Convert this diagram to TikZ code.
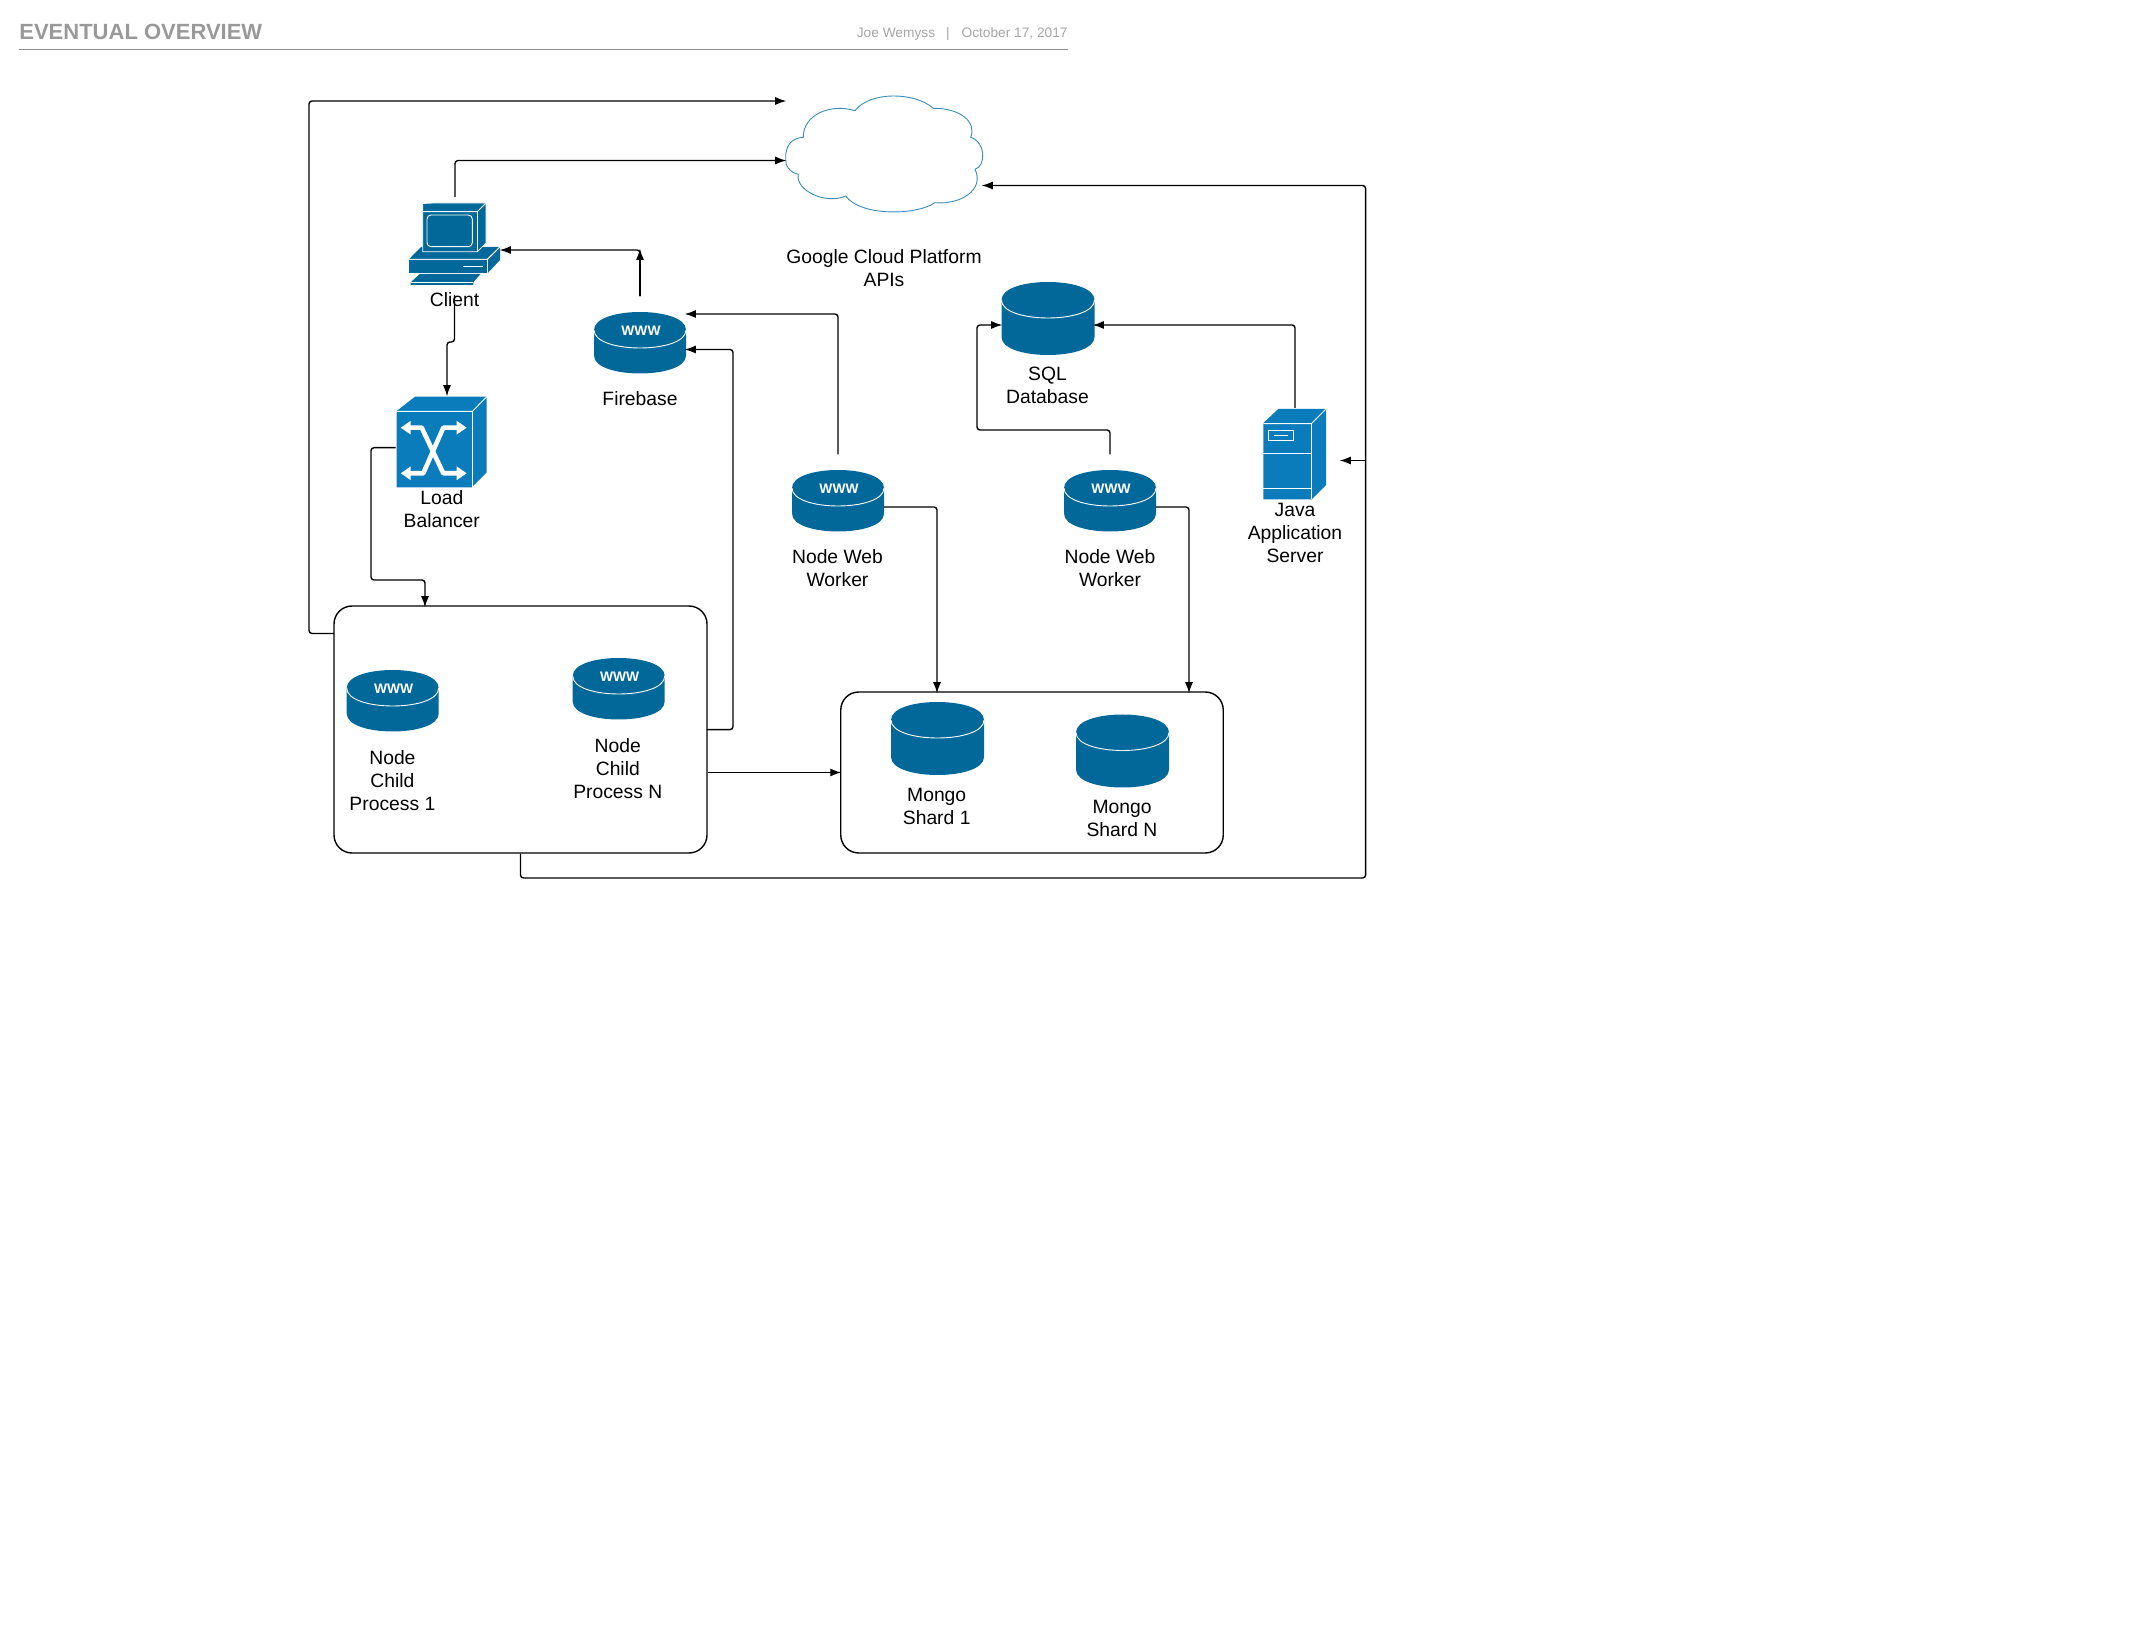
\documentclass[tikz,border=0pt]{standalone}
\usepackage{fontspec}
\setmainfont{Liberation Sans}
\usetikzlibrary{arrows.meta}
\definecolor{teal}{HTML}{02689A}
\definecolor{azure}{HTML}{0A7BBB}
\definecolor{cloudline}{HTML}{3A8DB8}
\tikzstyle{lbl}=[align=center, inner sep=0pt, font=\fontsize{9.65}{11.5}\selectfont]
\tikzstyle{grp}=[draw, rounded corners=9pt, line width=0.7pt, inner sep=0pt]
\tikzstyle{ar}=[-{Latex[length=5.6pt,width=4pt]}, line width=0.7pt, rounded corners=1.5pt, shorten >=-0.7pt]
\tikzstyle{hair}=[white, line width=0.45pt]
\tikzset{
  wwwdisk/.pic={
    \fill[teal] (-46,-12.5) .. controls (-46,-36.5) and (46,-36.5) .. (46,-12.5) -- (46,13)
      .. controls (46,37) and (-46,37) .. (-46,13) -- cycle;
    \draw[hair] (-46,-12.5) .. controls (-46,11.5) and (46,11.5) .. (46,-12.5);
    \node[text=white, inner sep=0pt, font=\fontsize{6.9}{8}\selectfont\bfseries] (-www) at (1,-11.5) {WWW};
    \coordinate (-east) at (46,6.5);
    \coordinate (-up) at (0,-46);
    \coordinate (-ina) at (46,-28.5);
    \coordinate (-inb) at (46,7);
  },
  dbcan/.pic={
    \fill[teal] (-46.5,-18.5) .. controls (-46.5,-42.5) and (46.5,-42.5) .. (46.5,-18.5) -- (46.5,18.5)
      .. controls (46.5,42.5) and (-46.5,42.5) .. (-46.5,18.5) -- cycle;
    \draw[hair] (-46.5,-18.5) .. controls (-46.5,5.5) and (46.5,5.5) .. (46.5,-18.5);
    \coordinate (-west) at (-47,6.5);
    \coordinate (-east) at (46,6.5);
  }
}

\begin{document}
\begin{tikzpicture}[x=0.5pt, y=-0.5pt]
    \useasboundingbox (0,0) rectangle (2136,1641);
    % header
    \node[anchor=base west, inner sep=0pt, text=black!40, font=\fontsize{11}{13}\selectfont\bfseries] (title) at (19,40) {EVENTUAL OVERVIEW};
    \node[anchor=base east, inner sep=0pt, text=black!35, font=\fontsize{6.86}{8}\selectfont] (date) at (1068,38) {October 17, 2017};
    \node[anchor=base, inner sep=0pt, text=black!35, font=\fontsize{6.86}{8}\selectfont] (bar) at (948,38) {|};
    \node[anchor=base east, inner sep=0pt, text=black!35, font=\fontsize{6.86}{8}\selectfont] (author) at (935.5,38) {Joe Wemyss};
    \coordinate (ruleL) at (19,49.5);
    \coordinate (ruleR) at (1068,49.5);
    \draw[black!45, line width=0.5pt] (ruleL)--(ruleR);
    % cloud
    \draw[cloudline, line width=0.45pt] (785.7,159.3) .. controls (785,145) and (792,138) .. (803.3,137.3)
      .. controls (803,115) and (830,103) .. (855,110.7)
      .. controls (870,91) and (915,92) .. (933.3,108.3)
      .. controls (960,108) and (977,122) .. (970.7,137.3)
      .. controls (986,142) and (986,166) .. (975,169.3)
      .. controls (985,190) and (960,205) .. (935,202.7)
      .. controls (915,216) and (860,216) .. (845.7,196)
      .. controls (825,205) and (795,190) .. (798.3,174.3)
      .. controls (790,173) and (785,165) .. (785.7,159.3) -- cycle;
    \node[lbl] (gcp) at (884,267.7) {Google Cloud Platform\\APIs};
    % client
    \fill[teal] (409,259.3)--(421,247)--(500,247)--(487.3,259.3)--cycle;
    \fill[teal] (487.8,259.8)--(500,247.5)--(500,260)--(487.8,273)--cycle;
    \fill[teal] (409,260)rectangle(487.3,273);
    \fill[teal, draw=white, line width=0.4pt] (422.7,203.5)--(433.3,203)--(486,203)--(486,243.3)--(477.3,251.7)--(422.7,251.7)--cycle;
    \draw[hair] (422.7,211.7)--(477.3,211.7)--(486,203);
    \draw[hair] (477.3,211.7)--(477.3,251.7);
    \draw[hair, rounded corners=2pt] (427,215) rectangle (472.3,246.7);
    \draw[hair] (409,259.3)--(487.3,259.3)--(500,246.7);
    \draw[hair] (487.3,259.3)--(487.3,273);
    \draw[hair, line width=0.6pt] (463.3,266.7)--(483.3,266.7);
    \fill[teal] (410.7,282.3)--(420,273.8)--(480.7,273.8)--(473.3,282.3)--(473.3,285)--(410.7,285)--cycle;
    \draw[hair] (410.7,282.6)--(473.3,282.6);
    \node[lbl] (client) at (454.5,300) {Client};
    % load balancer
    \fill[azure] (396.7,411)--(415,396.7)--(486.7,396.7)--(486.7,472.3)--(472.7,486.5)--(471.7,487.3)--(396.7,487.3)--cycle;
    \draw[hair] (396.7,411.4)--(472.4,411.4)--(486.7,396.7);
    \draw[hair] (472.4,411.4)--(472.4,487.3);
    \draw[white, line width=2.3pt, {Triangle[length=5pt,width=6.5pt]}-{Triangle[length=5pt,width=6.5pt]}, line join=round] (400.7,427.7)--(421.7,427.7)--(443.3,473.3)--(466.7,473.3);
    \draw[white, line width=2.3pt, {Triangle[length=5pt,width=6.5pt]}-{Triangle[length=5pt,width=6.5pt]}, line join=round] (400.7,473.3)--(423.3,473.3)--(443.3,427.7)--(466.7,427.7);
    \node[lbl] (lb) at (441.8,509.3) {Load\\Balancer};
    % java server
    \fill[azure] (1263.3,423)--(1278.3,409)--(1326,409)--(1326,485)--(1311.7,499.3)--(1263.3,499.3)--cycle;
    \draw[hair] (1263.3,423.6)--(1311.4,423.6)--(1326,409);
    \draw[hair] (1311.4,423.6)--(1311.4,499.3);
    \draw[hair] (1263.3,453.3)--(1311.4,453.3);
    \draw[hair] (1263.3,488.7)--(1311.4,488.7);
    \draw[hair, line width=0.6pt] (1268.7,430.3) rectangle (1293.3,440.3);
    \draw[hair] (1274.3,435.3)--(1288.3,435.3);
    \node[lbl] (java) at (1295,532.6) {Java\\Application\\Server};
    % disks
    \pic (firebase) at (640,342.5) {wwwdisk};
    \node[lbl] (fblbl) at (640,398.5) {Firebase};
    \pic (workera) at (838,500.5) {wwwdisk};
    \node[lbl] (walbl) at (837.5,567.8) {Node Web\\Worker};
    \pic (workerb) at (1110,500.5) {wwwdisk};
    \node[lbl] (wblbl) at (1110,567.8) {Node Web\\Worker};
    % databases
    \pic (sql) at (1048,318.5) {dbcan};
    \node[lbl] (sqllbl) at (1047.5,385.8) {SQL\\Database};
    % process group
    \node[grp, minimum width=186.5pt, minimum height=123.5pt] (procs) at (520.5,729.5) {};
    \pic (childa) at (392.7,700.5) {wwwdisk};
    \node[lbl] (calbl) at (392.4,781) {Node\\Child\\Process 1};
    \pic (childn) at (618.7,688.5) {wwwdisk};
    \node[lbl] (cnlbl) at (617.8,768.8) {Node\\Child\\Process N};
    % shard group
    \node[grp, minimum width=191.25pt, minimum height=80.5pt] (shards) at (1032,772.5) {};
    \pic (shardone) at (937.5,738.5) {dbcan};
    \node[lbl] (salbl) at (936.7,806) {Mongo\\Shard 1};
    \pic (shardn) at (1122.5,751) {dbcan};
    \node[lbl] (snlbl) at (1122,818) {Mongo\\Shard N};
    % free ends
    \coordinate (cloudTop) at (785,101);
    \coordinate (cloudW) at (785,160.5);
    \coordinate (cloudE) at (983,185.5);
    \coordinate (loopOut) at (334,633.5);
    \coordinate (loopTop) at (309,101);
    \coordinate (clientUp) at (455,197);
    \coordinate (clientDn) at (454.5,295);
    \coordinate (clientIn) at (501,250);
    \coordinate (fbTip) at (640,250);
    \coordinate (jogA) at (454.5,342);
    \coordinate (jogB) at (447,342);
    \coordinate (lbIn) at (447,395);
    \coordinate (lbOut) at (395.7,447.7);
    \coordinate (lbLeg) at (371,580);
    \coordinate (procsIn) at (425,606);
    \coordinate (procsOut) at (707,729.6);
    \coordinate (fbLeg) at (733,349.5);
    \coordinate (sqlLeg) at (977,430);
    \coordinate (javaUp) at (1295,408);
    \coordinate (shardInA) at (937,692);
    \coordinate (shardInB) at (1189,692);
    \coordinate (trunkB) at (1365.6,878);
    \coordinate (trunkJ) at (1365.6,460.5);
    \coordinate (javaIn) at (1341,460.5);
    % connectors
    \draw[ar] (loopOut) -| (loopTop) -- (cloudTop);
    \draw[ar] (clientUp) |- (cloudW);
    \draw[ar] (clientDn) -- (jogA) -- (jogB) -- (lbIn);
    \draw[ar] (firebase-up) |- (clientIn);
    \draw[ar] (firebase-up) -- (fbTip);
    \draw[ar] (workera-up) |- (firebase-ina);
    \draw[ar] (procsOut) -| (fbLeg) -- (firebase-inb);
    \draw[ar] (lbOut) -| (lbLeg) -| (procsIn);
    \draw[ar] (shards.west -| procs.east) -- (shards.west);
    \draw[ar] (workera-east) -| (shardInA);
    \draw[ar] (workerb-east) -| (shardInB);
    \draw[ar] (workerb-up) |- (sqlLeg) |- (sql-west);
    \draw[ar] (javaUp) |- (sql-east);
    \draw[ar] (procs.south) |- (trunkB) |- (cloudE);
    \draw[ar] (trunkJ) -- (javaIn);
  \end{tikzpicture}
\end{document}
